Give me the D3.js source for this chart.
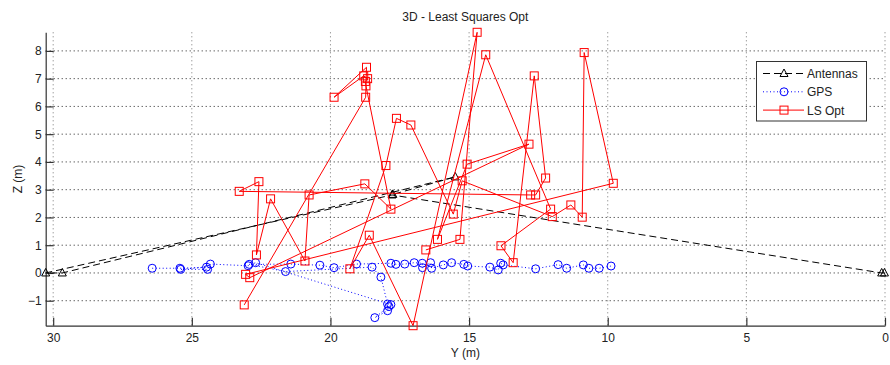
<!DOCTYPE html>
<html>
<head>
<meta charset="utf-8">
<script src="https://cdn.jsdelivr.net/npm/d3@7"></script>
<style>
  html, body { margin: 0; padding: 0; background: #fff; }
  svg text { font-family: "Liberation Sans", Arial, sans-serif; fill: #222; }
</style>
</head>
<body>
<svg id="chart" width="890" height="365"></svg>
<script>
// Antenna positions (Y, Z) in metres, in drawing order
const antennaY = [0.02, 0.12, 17.78, 30.27, 29.67, 15.50, 17.75];
const antennaZ = [0.0, 0.0, 2.81, 0.0, 0.0, 3.46, 2.83];

// GPS fixes (Y, Z)
const gpsY = [26.43, 25.43, 24.47, 25.40, 24.43, 24.33, 22.97, 22.70, 17.82, 18.40, 17.94, 17.89, 17.94,
  18.18, 18.50, 21.62, 22.93, 21.43, 20.38, 19.87, 19.06, 17.82, 17.64, 17.32, 16.98, 16.69, 16.68,
  16.39, 16.35, 15.93, 15.63, 15.19, 15.05, 14.25, 13.95, 13.86, 13.77, 12.60, 11.79, 11.48, 10.88,
  10.68, 10.31, 9.88];
const gpsZ = [0.17, 0.17, 0.21, 0.13, 0.13, 0.32, 0.26, 0.37, -1.14, -1.61, -1.36, -1.21, -1.12,
  -0.15, 0.21, 0.05, 0.31, 0.32, 0.28, 0.19, 0.32, 0.35, 0.31, 0.32, 0.37, 0.35, 0.19,
  0.37, 0.17, 0.29, 0.37, 0.31, 0.25, 0.21, 0.11, 0.35, 0.29, 0.15, 0.30, 0.17, 0.29,
  0.17, 0.17, 0.25];

// Least-squares optimised solutions (Y, Z)
const lsY = [23.11, 18.73, 18.70, 19.87, 18.80, 18.66, 18.74, 18.72, 17.82, 18.76, 20.77, 20.92,
  22.16, 22.67, 22.58, 23.29, 12.78, 12.60, 12.24, 12.65, 13.41, 13.85, 12.06, 14.40, 16.14,
  15.07, 12.84, 22.91, 23.06, 9.80, 10.85, 10.92, 11.33, 12.00, 15.25, 15.57, 17.10, 17.62,
  18.00, 19.30, 18.60, 17.02, 14.71, 15.33, 16.56];
const lsZ = [-1.15, 6.33, 7.41, 6.33, 7.10, 7.00, 6.90, 6.74, 2.30, 3.21, 2.81, 0.43,
  2.67, 0.65, 3.29, 2.94, 2.81, 2.81, 3.42, 7.10, 0.37, 0.98, 2.30, 7.86, 1.21,
  3.92, 4.64, -0.17, -0.05, 3.23, 7.94, 2.01, 2.45, 2.03, 3.32, 2.12, 5.33, 5.57,
  3.87, 0.15, 1.36, -1.90, 8.67, 1.21, 0.83];

const xTicks = [30, 25, 20, 15, 10, 5, 0];
const yTicks = [-1, 0, 1, 2, 3, 4, 5, 6, 7, 8];
const seriesNames = ["Antennas", "GPS", "LS Opt"];

const svg = d3.select("#chart");
const plotLeft = 45.7, plotRight = 885, plotTop = 32.3, plotBottom = 325.7;

const x = d3.scaleLinear().domain([30.27, 0]).range([plotLeft, plotRight]);
const y = d3.scaleLinear().domain([-1.9, 8.67]).range([plotBottom, plotTop]);

// Dotted grid
const grid = svg.append("g");
grid.selectAll("line.gx").data(xTicks).join("line")
  .attr("x1", d => x(d)).attr("x2", d => x(d))
  .attr("y1", plotTop).attr("y2", plotBottom)
  .attr("stroke", "#777").attr("stroke-width", 1)
  .attr("stroke-dasharray", "1,3");
grid.selectAll("line.gy").data(yTicks).join("line")
  .attr("x1", plotLeft).attr("x2", plotRight)
  .attr("y1", d => y(d)).attr("y2", d => y(d))
  .attr("stroke", "#222").attr("stroke-width", 1)
  .attr("stroke-dasharray", "1,3");

// Axes with inward ticks
const xAxis = d3.axisBottom(x).tickValues(xTicks).tickSizeInner(-8).tickSizeOuter(0).tickPadding(7.5);
const yAxis = d3.axisLeft(y).tickValues(yTicks).tickSizeInner(-8).tickSizeOuter(0).tickPadding(4);

const gx = svg.append("g").attr("transform", `translate(0,${plotBottom})`).call(xAxis);
const gy = svg.append("g").attr("transform", `translate(${plotLeft},0)`).call(yAxis);
[gx, gy].forEach(g => {
  g.select(".domain").attr("stroke", "#333").attr("stroke-width", 1.2);
  g.selectAll(".tick line").attr("stroke", "#333").attr("stroke-width", 1.2);
  g.selectAll(".tick text").attr("font-size", 12).attr("fill", "#222")
    .style("font-family", "'Liberation Sans', Arial, sans-serif");
});

// Titles
svg.append("text").attr("x", (plotLeft + plotRight) / 2).attr("y", 20.5)
  .attr("text-anchor", "middle").attr("font-size", 12).text("3D - Least Squares Opt");
svg.append("text").attr("x", (plotLeft + plotRight) / 2).attr("y", 357)
  .attr("text-anchor", "middle").attr("font-size", 12).text("Y (m)");
svg.append("text").attr("transform", `translate(22,${(plotTop + plotBottom) / 2}) rotate(-90)`)
  .attr("text-anchor", "middle").attr("font-size", 12).text("Z (m)");

// Marker shapes
const triPath = "M0,-4.5L4,3L-4,3Z";
function drawMarker(g, kind, cx, cy, color) {
  if (kind === "tri") {
    g.append("path").attr("d", triPath).attr("transform", `translate(${cx},${cy})`)
      .attr("fill", "none").attr("stroke", color).attr("stroke-width", 1);
  } else if (kind === "circ") {
    g.append("circle").attr("cx", cx).attr("cy", cy).attr("r", 4)
      .attr("fill", "none").attr("stroke", color).attr("stroke-width", 1);
  } else {
    g.append("rect").attr("x", cx - 4).attr("y", cy - 4).attr("width", 8).attr("height", 8)
      .attr("fill", "none").attr("stroke", color).attr("stroke-width", 1);
  }
}

const line = d3.line().x(d => x(d[0])).y(d => y(d[1]));
const series = [
  { name: seriesNames[0], ys: antennaY, zs: antennaZ, color: "#000", dash: "7,4", kind: "tri" },
  { name: seriesNames[1], ys: gpsY, zs: gpsZ, color: "#0000ff", dash: "1,2.5", kind: "circ" },
  { name: seriesNames[2], ys: lsY, zs: lsZ, color: "#ff0000", dash: null, kind: "sq" }
];

series.forEach(s => {
  const pts = s.ys.map((v, i) => [v, s.zs[i]]);
  const g = svg.append("g");
  g.append("path").datum(pts).attr("d", line)
    .attr("fill", "none").attr("stroke", s.color).attr("stroke-width", 1)
    .attr("stroke-dasharray", s.dash);
  pts.forEach(p => drawMarker(g, s.kind, x(p[0]), y(p[1]), s.color));
});

// Legend
const lg = svg.append("g");
lg.append("rect").attr("x", 756.5).attr("y", 61.5).attr("width", 110).attr("height", 59.5)
  .attr("fill", "#fff").attr("stroke", "#333").attr("stroke-width", 1);
series.forEach((s, i) => {
  const cy = 73.5 + i * 18.3;
  lg.append("line").attr("x1", 763).attr("x2", 804).attr("y1", cy).attr("y2", cy)
    .attr("stroke", s.color).attr("stroke-width", 1).attr("stroke-dasharray", s.dash);
  drawMarker(lg, s.kind, 784, cy, s.color);
  lg.append("text").attr("x", 807).attr("y", cy + 4.5).attr("font-size", 12).text(s.name);
});
</script>
</body>
</html>
